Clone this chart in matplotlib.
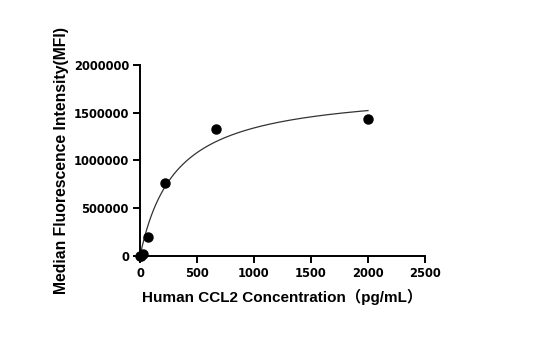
import numpy as np
import matplotlib
matplotlib.use('Agg')
import matplotlib.pyplot as plt

plt.rcParams['font.family'] = ['DejaVu Sans', 'Noto Sans CJK SC']
plt.rcParams['font.weight'] = 'bold'

# measured points
conc = [0, 8.2, 24.7, 74.1, 222.2, 666.7, 2000]
mfi = [0, 3000, 20000, 196000, 768000, 1330000, 1438000]

# one-site saturation fit parameters
bmax = 1762000
kd = 314

x_ticks = [0, 500, 1000, 1500, 2000, 2500]
y_ticks = [0, 500000, 1000000, 1500000, 2000000]
x_labels = ['0', '500', '1000', '1500', '2000', '2500']
y_labels = ['0', '500000', '1000000', '1500000', '2000000']

label_font = ['Liberation Sans', 'Noto Sans CJK SC']

fig = plt.figure(figsize=(5.48, 3.5), dpi=100)
ax = fig.add_axes([0.2555, 0.2686, 0.52, 0.5457])

xf = np.linspace(0, max(conc), 300)
ax.plot(xf, bmax * xf / (kd + xf), color='#333333', lw=0.9)
ax.plot(conc, mfi, 'o', color='black', ms=6.5, clip_on=False, zorder=3)

ax.set_xlim(0, 2500)
ax.set_ylim(0, 2000000)
ax.set_xticks(x_ticks)
ax.set_yticks(y_ticks)
ax.set_xticklabels(x_labels, fontweight='bold')
ax.set_yticklabels(y_labels, fontweight='bold')
ax.tick_params(labelsize=8.3, width=1.4, length=5, direction='out', pad=3)

ax.spines['top'].set_visible(False)
ax.spines['right'].set_visible(False)
for s in ['left', 'bottom']:
    ax.spines[s].set_linewidth(1.4)

ax.set_xlabel('Human CCL2 Concentration（pg/mL）', fontsize=11, fontweight='bold',
              family=label_font, labelpad=6)
ax.set_ylabel('Median Fluorescence Intensity(MFI)', fontsize=11.3, fontweight='bold',
              family=label_font, labelpad=3)

fig.savefig('out.png', dpi=100)
